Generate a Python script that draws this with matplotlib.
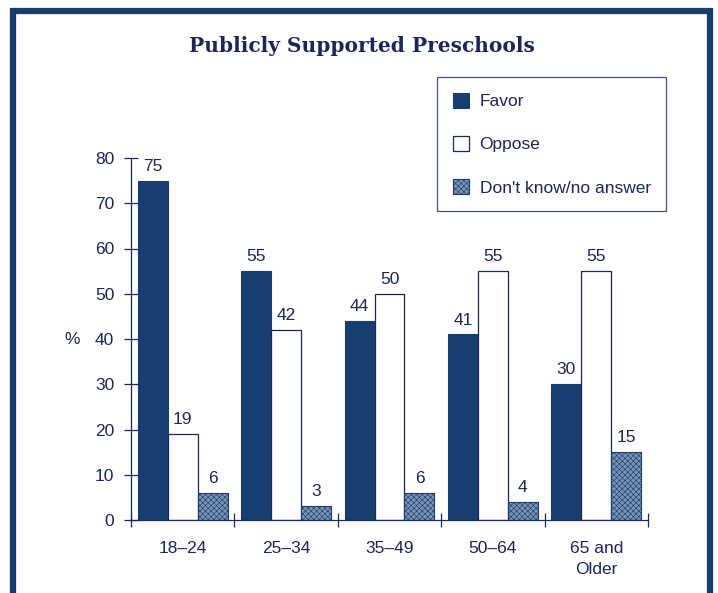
import numpy as np
import matplotlib.pyplot as plt
from matplotlib.patches import Rectangle

# Poll results by age group (%)
age_groups = ["18\u201324", "25\u201334", "35\u201349", "50\u201364", "65 and\nOlder"]
favor = [75, 55, 44, 41, 30]
oppose = [19, 42, 50, 55, 55]
dont_know = [6, 3, 6, 4, 15]

NAVY = "#173e6e"
INK = "#1c2658"
STIPPLE = "#7d93b6"

plt.rcParams["font.family"] = ["Liberation Sans", "DejaVu Sans"]
plt.rcParams["hatch.linewidth"] = 0.45

fig = plt.figure(figsize=(7.18, 5.93), dpi=100)

# page frame
fig.patches.append(Rectangle((13 / 718, -0.02), 697 / 718, 1 - 11 / 593 + 0.02,
                             transform=fig.transFigure, fill=False,
                             edgecolor=NAVY, linewidth=4.5, zorder=0))

ax = fig.add_axes([131 / 718, 1 - 520 / 593, 517 / 718, (520 - 158) / 593])

x = np.arange(len(age_groups))
w = 0.29
b1 = ax.bar(x - w, favor, w, color=NAVY, edgecolor=NAVY, linewidth=0.8, label="Favor")
b2 = ax.bar(x, oppose, w, color="white", edgecolor=INK, linewidth=0.9, label="Oppose")
b3 = ax.bar(x + w, dont_know, w, color=STIPPLE, edgecolor=NAVY, linewidth=0.8,
            hatch="xxxxxx", label="Don't know/no answer")

for bars, vals in [(b1, favor), (b2, oppose), (b3, dont_know)]:
    for rect, v in zip(bars, vals):
        ax.annotate(f"{v}", (rect.get_x() + rect.get_width() / 2, v),
                    xytext=(0, 5), textcoords="offset points",
                    ha="center", va="bottom", fontsize=12.5, color=INK)

ax.set_xlim(-0.5, len(age_groups) - 0.5)
ax.set_ylim(0, 80)
ax.set_yticks(range(0, 81, 10))
ax.set_xticks(np.arange(len(age_groups) + 1) - 0.5)
ax.set_xticklabels([])
ax.set_xticks(x, minor=True)
ax.set_xticklabels(age_groups, minor=True, fontsize=12.5, color=INK, linespacing=1.55)
ax.tick_params(axis="x", which="minor", length=0, pad=15)
ax.tick_params(axis="x", which="major", direction="inout", length=10, width=0.9, color=INK)
ax.tick_params(axis="y", direction="inout", length=10, width=0.9, color=INK,
               labelsize=12.5, labelcolor=INK, pad=7)

for s in ["top", "right"]:
    ax.spines[s].set_visible(False)
for s in ["left", "bottom"]:
    ax.spines[s].set_color(INK)
    ax.spines[s].set_linewidth(0.9)

fig.text(72 / 718, 1 - 340 / 593, "%", ha="center", va="center", fontsize=12.5, color=INK)

fig.text(362 / 718, 1 - 46 / 593, "Publicly Supported Preschools",
         ha="center", va="center", fontsize=14.5, fontweight="bold",
         family="DejaVu Serif", color=INK)

leg = ax.legend(loc="upper left", bbox_to_anchor=(437 / 718, 1 - 77 / 593),
                bbox_transform=fig.transFigure, fontsize=12.5, frameon=True,
                fancybox=False, edgecolor=INK, handlelength=0.95, handleheight=0.95,
                labelspacing=1.55, borderpad=0.9, borderaxespad=0,
                handletextpad=0.6, labelcolor=INK)
leg.get_frame().set_linewidth(0.9)

fig.savefig("out.png", dpi=100)
